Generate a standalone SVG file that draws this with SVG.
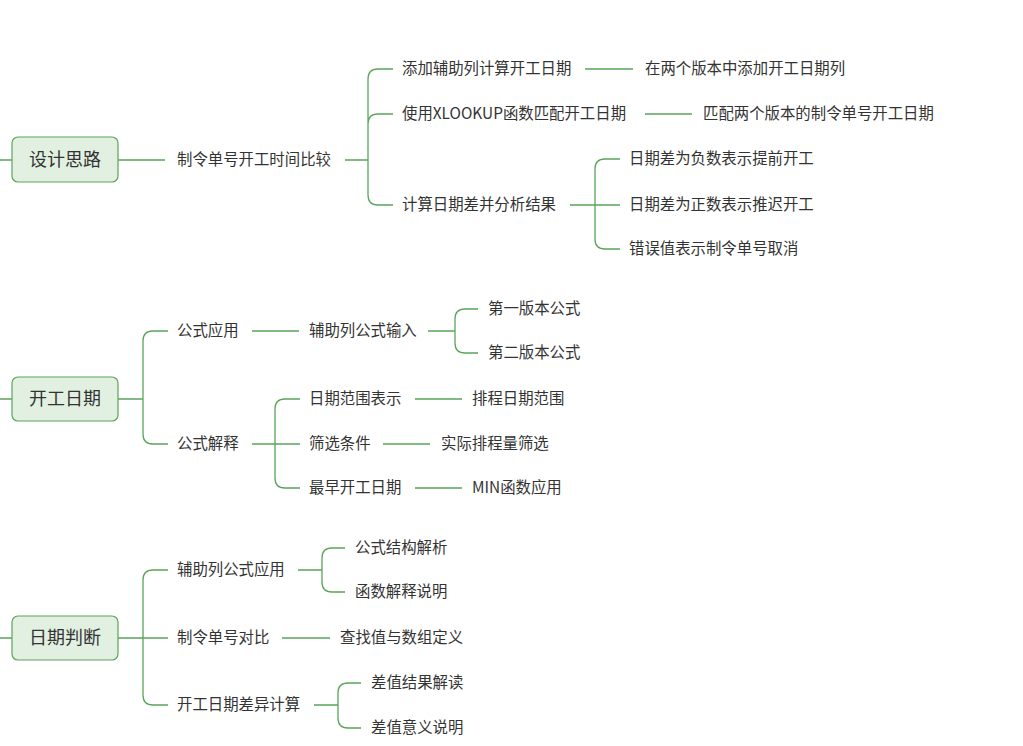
<svg xmlns="http://www.w3.org/2000/svg" width="1023" height="746" viewBox="0 0 1023 746">
<style>
.t{font-family:"Noto Sans CJK SC","Liberation Sans",sans-serif;font-size:15.4px;fill:#333}
.r{font-family:"Noto Sans CJK SC","Liberation Sans",sans-serif;font-size:18px;fill:#333}
.box{fill:#e2f0e2;stroke:#5aa55a;stroke-width:1.2}
#conn path{fill:none;stroke:#5aa55a;stroke-width:1.3}
</style>
<rect width="1023" height="746" fill="#fff"/>
<g id="conn">
<path d="M0 160H12M118 160H165M345 160H368"/>
<path d="M368 160V79Q368 69 378 69H393M368 160V124Q368 114 378 114H393M368 160V195Q368 205 378 205H393"/>
<path d="M585 69H633M645 114H692M570 205H595"/>
<path d="M595 205V169Q595 159 605 159H620M595 205H620M595 205V239Q595 249 605 249H620"/>
<path d="M0 399H12M118 399H143"/>
<path d="M143 399V341Q143 331 153 331H168M143 399V434Q143 444 153 444H168"/>
<path d="M252 331H299M428 331H455M455 331V319Q455 309 465 309H478M455 331V343Q455 353 465 353H478"/>
<path d="M252 444H275M275 444V409Q275 399 285 399H300M275 444H300M275 444V478Q275 488 285 488H300"/>
<path d="M415 399H462M383 444H430M415 488H462"/>
<path d="M0 638H12M118 638H143"/>
<path d="M143 638V580Q143 570 153 570H168M143 638H168M143 638V695Q143 705 153 705H168"/>
<path d="M298 570H322M322 570V558Q322 548 332 548H345M322 570V582Q322 592 332 592H345"/>
<path d="M282 638H330M314 705H338M338 705V693Q338 683 348 683H361M338 705V718Q338 728 348 728H361"/>
</g>
<g id="n1"><rect class="box" x="12" y="137" width="106" height="45" rx="6"/><text class="r" x="65" y="166" text-anchor="middle">设计思路</text></g>
<g id="n2"><rect class="box" x="12" y="377" width="106" height="44" rx="6"/><text class="r" x="65" y="405" text-anchor="middle">开工日期</text></g>
<g id="n3"><rect class="box" x="12" y="616" width="106" height="44" rx="6"/><text class="r" x="65" y="644" text-anchor="middle">日期判断</text></g>
<g id="labels">
<text class="t" x="177" y="165">制令单号开工时间比较</text>
<text class="t" x="402" y="74">添加辅助列计算开工日期</text>
<text class="t" x="645" y="74">在两个版本中添加开工日期列</text>
<text class="t" x="402" y="119">使用XLOOKUP函数匹配开工日期</text>
<text class="t" x="703" y="119">匹配两个版本的制令单号开工日期</text>
<text class="t" x="402" y="210">计算日期差并分析结果</text>
<text class="t" x="629" y="164">日期差为负数表示提前开工</text>
<text class="t" x="629" y="210">日期差为正数表示推迟开工</text>
<text class="t" x="629" y="254">错误值表示制令单号取消</text>
<text class="t" x="177" y="336">公式应用</text>
<text class="t" x="309" y="336">辅助列公式输入</text>
<text class="t" x="488" y="314">第一版本公式</text>
<text class="t" x="488" y="358">第二版本公式</text>
<text class="t" x="177" y="449">公式解释</text>
<text class="t" x="309" y="404">日期范围表示</text>
<text class="t" x="472" y="404">排程日期范围</text>
<text class="t" x="309" y="449">筛选条件</text>
<text class="t" x="441" y="449">实际排程量筛选</text>
<text class="t" x="309" y="493">最早开工日期</text>
<text class="t" x="472" y="493">MIN函数应用</text>
<text class="t" x="177" y="575">辅助列公式应用</text>
<text class="t" x="355" y="553">公式结构解析</text>
<text class="t" x="355" y="597">函数解释说明</text>
<text class="t" x="177" y="643">制令单号对比</text>
<text class="t" x="340" y="643">查找值与数组定义</text>
<text class="t" x="177" y="710">开工日期差异计算</text>
<text class="t" x="371" y="688">差值结果解读</text>
<text class="t" x="371" y="733">差值意义说明</text>
</g>
</svg>
